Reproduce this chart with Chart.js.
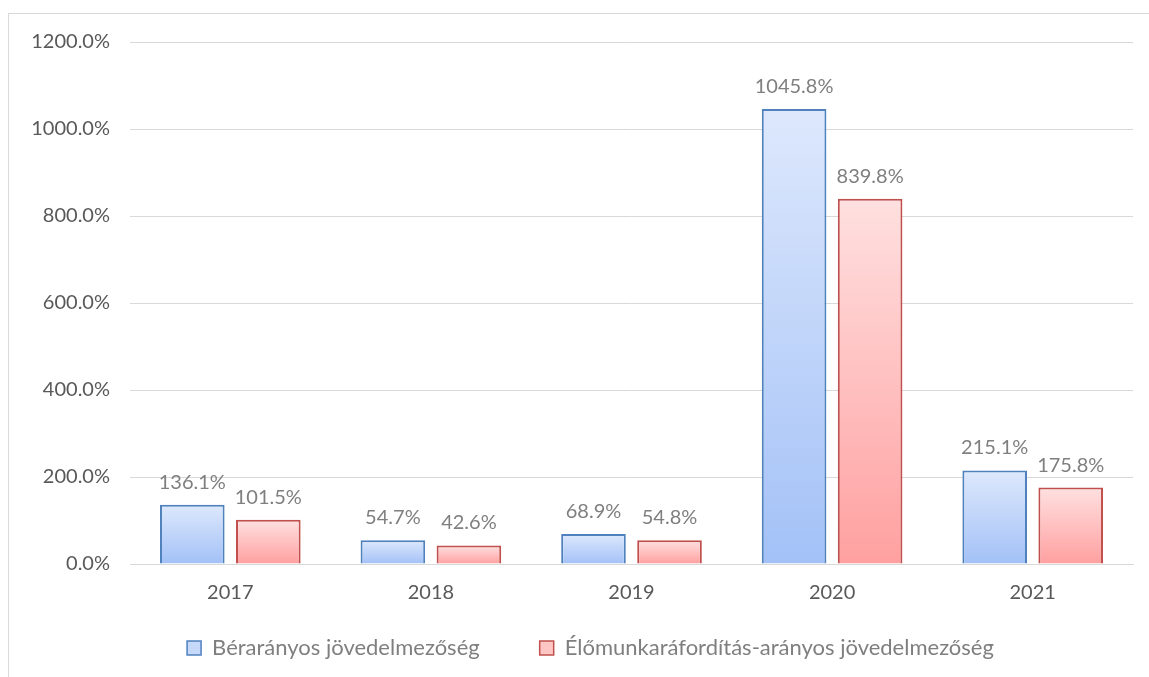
<!DOCTYPE html>
<html>
    <head>
        <meta charset="UTF-8">
        <title>Jövedelmezőség</title>
        <script src="https://cdn.jsdelivr.net/npm/chart.js"></script>
        <style>
            body { margin: 0; background: #ffffff; }
            .frame {
                position: absolute; left: 8px; top: 13px; width: 1160px; height: 700px;
                border: 1px solid #d9d9d9; box-sizing: border-box;
            }
            .chart_box { position: absolute; left: 0; top: 0; width: 1149px; height: 677px; }
        </style>
    </head>
    <body>
        <div class="frame"></div>
        <div class="chart_box">
            <canvas id="profit_chart_canvas"></canvas>
        </div>

    <script>
    // years and the two profitability series (percent)
    const years = ['2017', '2018', '2019', '2020', '2021'];
    const wage_based = [136.1, 54.7, 68.9, 1045.8, 215.1];
    const labour_cost_based = [101.5, 42.6, 54.8, 839.8, 175.8];
    const series_names = ['Bérarányos jövedelmezőség', 'Élőmunkaráfordítás-arányos jövedelmezőség'];
    const y_ticks = [0, 200, 400, 600, 800, 1000, 1200];

    const FONT = 'Lato';

    // vertical gradient per bar, light on top, darker at the base
    function barGradient(top_color, bottom_color) {
        return function (context) {
            const chart = context.chart;
            const y = chart.scales.y;
            if (!y || context.type !== 'data') return top_color;
            const v = context.raw;
            const y_top = y.getPixelForValue(v);
            const y_bottom = y.getPixelForValue(0);
            if (!isFinite(y_top) || !isFinite(y_bottom) || y_top === y_bottom) return top_color;
            const g = chart.ctx.createLinearGradient(0, y_top, 0, y_bottom);
            g.addColorStop(0, top_color);
            g.addColorStop(1, bottom_color);
            return g;
        };
    }

    // value labels above each bar
    const valueLabels = {
        id: 'valueLabels',
        afterDatasetsDraw(chart) {
            const ctx = chart.ctx;
            ctx.save();
            ctx.font = '20px ' + FONT;
            ctx.fillStyle = '#7f7f7f';
            ctx.textAlign = 'center';
            ctx.textBaseline = 'alphabetic';
            chart.data.datasets.forEach((ds, i) => {
                chart.getDatasetMeta(i).data.forEach((bar, j) => {
                    ctx.fillText(ds.data[j].toFixed(1) + '%', bar.x, bar.y - 16);
                });
            });
            ctx.restore();
        }
    };

    // keep the legend box short (its padding is only wanted between items),
    // then start it higher and a little to the right
    const legendFit = {
        id: 'legendFit',
        afterInit(chart) {
            const legend = chart.legend;
            const origFit = legend.fit;
            legend.fit = function () {
                origFit.call(this);
                this.height = 63;
            };
        },
        afterLayout(chart) {
            const legend = chart.legend;
            legend.left += 24;
            legend.right += 24;
            legend.top -= 37;
        }
    };

    let profit_chart = new Chart(document.getElementById('profit_chart_canvas'), {
        type: 'bar',
        data: {
            labels: years,
            datasets: [
                {
                    label: series_names[0],
                    data: wage_based,
                    backgroundColor: barGradient('#dde8fc', '#a3c1f7'),
                    borderColor: '#4f81bd',
                    borderWidth: 2,
                    borderSkipped: 'bottom',
                    legendFill: '#c6d9f8',
                },
                {
                    label: series_names[1],
                    data: labour_cost_based,
                    backgroundColor: barGradient('#ffe0e0', '#ffa0a0'),
                    borderColor: '#c0504d',
                    borderWidth: 2,
                    borderSkipped: 'bottom',
                    legendFill: '#ffc6c6',
                },
            ],
        },
        options: {
            responsive: true,
            maintainAspectRatio: false,
            animation: false,
            datasets: {
                bar: { categoryPercentage: 0.758, barPercentage: 0.85 }
            },
            layout: { padding: { top: 42, right: 16, left: 0, bottom: 0 } },
            scales: {
                x: {
                    afterFit(scale) { scale.height = 50; },
                    grid: { display: false, drawTicks: false },
                    border: { color: '#d9d9d9', width: 1 },
                    ticks: { color: '#595959', font: { family: FONT, size: 20 }, padding: 17 },
                },
                y: {
                    min: 0,
                    max: 1200,
                    afterBuildTicks(scale) { scale.ticks = y_ticks.map(v => ({ value: v })); },
                    afterFit(scale) { scale.width = 130; },
                    grid: { color: '#d9d9d9', drawTicks: false },
                    border: { display: false },
                    ticks: {
                        color: '#595959',
                        font: { family: FONT, size: 20 },
                        padding: 20,
                        callback: v => v.toFixed(1) + '%',
                    },
                },
            },
            plugins: {
                tooltip: { enabled: false },
                legend: {
                    position: 'bottom',
                    labels: {
                        color: '#7f7f7f',
                        font: { family: FONT, size: 22 },
                        boxWidth: 14,
                        boxHeight: 14,
                        padding: 60,
                        generateLabels(chart) {
                            return chart.data.datasets.map((ds, i) => ({
                                text: ds.label,
                                fillStyle: ds.legendFill,
                                strokeStyle: ds.borderColor,
                                lineWidth: 1.5,
                                fontColor: '#7f7f7f',
                                datasetIndex: i,
                            }));
                        },
                    },
                },
            },
        },
        plugins: [valueLabels, legendFit],
    });
    </script>
    </body>
</html>
